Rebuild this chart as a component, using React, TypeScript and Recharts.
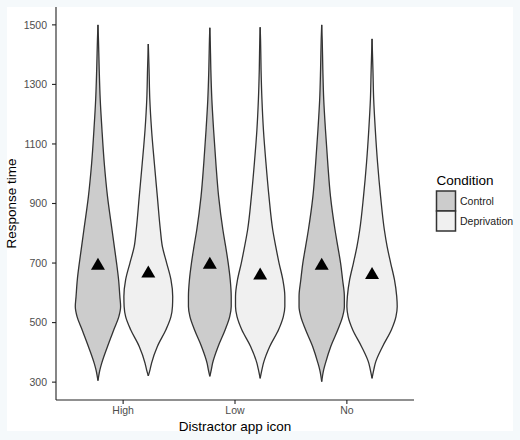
import { ComposedChart, Area, Scatter, XAxis, YAxis } from "recharts";

const groups = ["High", "Low", "No"];
const conditions = ["Control", "Deprivation"];

// mean response times (triangles)
const controlMeans = [691, 694, 691];
const deprivationMeans = [665, 658, 660];

const rtLevels = [342, 364, 420, 476, 520, 554, 588, 644, 700, 755, 811, 923, 1036, 1147, 1250, 1350, 1450];

// relative density at each level (1 = widest violin)
const highControl = [0.08, 0.15, 0.38, 0.63, 0.83, 0.9, 0.87, 0.82, 0.74, 0.65, 0.56, 0.38, 0.25, 0.16, 0.09, 0.05, 0.02];
const highDeprivation = [0.07, 0.13, 0.36, 0.7, 0.9, 0.96, 0.97, 0.9, 0.73, 0.56, 0.48, 0.36, 0.24, 0.13, 0.06, 0.03, null];
const lowControl = [0.06, 0.11, 0.33, 0.61, 0.79, 0.85, 0.85, 0.81, 0.73, 0.63, 0.52, 0.35, 0.24, 0.15, 0.08, 0.04, 0.015];
const lowDeprivation = [0.07, 0.13, 0.38, 0.73, 0.92, 0.98, 0.98, 0.9, 0.75, 0.62, 0.5, 0.35, 0.23, 0.13, 0.07, 0.035, 0.015];
const noControl = [0.08, 0.15, 0.36, 0.64, 0.83, 0.9, 0.9, 0.83, 0.75, 0.64, 0.53, 0.35, 0.24, 0.15, 0.08, 0.045, 0.02];
const noDeprivation = [0.07, 0.13, 0.42, 0.77, 0.95, 1.0, 0.98, 0.89, 0.74, 0.6, 0.49, 0.34, 0.22, 0.13, 0.065, 0.035, null];

// min / max response time of each violin
const controlMin = [305, 319, 302];
const controlMax = [1500, 1490, 1500];
const deprivationMin = [321, 313, 313];
const deprivationMax = [1436, 1492, 1453];

const yTicks = [300, 500, 700, 900, 1100, 1300, 1500];

const FONT = '"Liberation Sans", Arial, sans-serif';
const FILLS = ["#cccccc", "#f0f0f0"];
const OUTLINE = "#333333";
const DODGE = 0.225;
const HALF = 0.225;

const densities = [
  [highControl, highDeprivation],
  [lowControl, lowDeprivation],
  [noControl, noDeprivation],
];
const mins = [controlMin, deprivationMin];
const maxs = [controlMax, deprivationMax];

const violins = groups.flatMap((g, gi) =>
  conditions.map((c, ci) => ({
    key: `${g}_${c}`,
    cond: ci,
    pos: gi + 1 + (ci === 0 ? -DODGE : DODGE),
    dens: densities[gi][ci],
    min: mins[ci][gi],
    max: maxs[ci][gi],
  }))
);

const allRt = Array.from(
  new Set([...rtLevels, ...controlMin, ...controlMax, ...deprivationMin, ...deprivationMax])
).sort((a, b) => a - b);

const data = allRt.map((rt) => {
  const row: Record<string, number | null> = { rt };
  violins.forEach((v) => {
    let d: number | null = null;
    if (rt === v.min || rt === v.max) d = 0;
    else if (rt > v.min && rt < v.max) {
      const i = rtLevels.indexOf(rt);
      d = i >= 0 ? v.dens[i] : null;
    }
    row[v.key] = d;
  });
  return row;
});

const means = groups.flatMap((g, gi) => [
  { pos: gi + 1 - DODGE, rt: controlMeans[gi] },
  { pos: gi + 1 + DODGE, rt: deprivationMeans[gi] },
]);

const Triangle = (props: any) => {
  const { cx, cy } = props;
  return <polygon points={`${cx},${cy - 8} ${cx - 7},${cy + 4} ${cx + 7},${cy + 4}`} fill="#000" />;
};

export default function App() {
  return (
    <div style={{ position: "relative", width: 520, height: 440, background: "#f5f9fb", fontFamily: FONT }}>
      <style>{"body{margin:0}"}</style>
      <div style={{ position: "absolute", left: 7, top: 7, width: 506, height: 424, background: "#fff" }} />
      <div style={{ position: "absolute", left: 0, top: 0 }}>
        <ComposedChart
          width={520}
          height={440}
          data={data}
          layout="vertical"
          margin={{ top: 7, right: 106, bottom: 4, left: 7 }}
        >
          <XAxis
            type="number"
            dataKey="pos"
            domain={[0.4, 3.6]}
            allowDataOverflow
            ticks={[1, 2, 3]}
            tickFormatter={(v) => groups[Math.round(v) - 1]}
            height={36}
            stroke="#222"
            strokeWidth={1.1}
            tickSize={4}
            tickMargin={3}
            tick={{ fill: "#4d4d4d", fontSize: 10.5, fontFamily: FONT }}
            label={{
              value: "Distractor app icon",
              position: "insideBottom",
              offset: 5.5,
              style: { fill: "#000", fontSize: 13.5, fontFamily: FONT },
            }}
          />
          <YAxis
            type="number"
            dataKey="rt"
            reversed
            domain={[240, 1560]}
            allowDataOverflow
            ticks={yTicks}
            width={49}
            stroke="#222"
            strokeWidth={1.1}
            tickSize={4}
            tickMargin={5}
            tick={{ fill: "#4d4d4d", fontSize: 10.5, fontFamily: FONT }}
            label={{
              value: "Response time",
              angle: -90,
              position: "insideLeft",
              offset: 4,
              style: { fill: "#000", fontSize: 13.5, fontFamily: FONT, textAnchor: "middle" },
            }}
          />
          {violins.map((v) => (
            <Area
              key={v.key}
              dataKey={(row: any) => {
                const d = row[v.key];
                return d == null ? [null, null] : [v.pos - d * HALF, v.pos + d * HALF];
              }}
              type="monotone"
              connectNulls
              fill={FILLS[v.cond]}
              fillOpacity={1}
              stroke={OUTLINE}
              strokeWidth={1.3}
              dot={false}
              activeDot={false}
              isAnimationActive={false}
            />
          ))}
          <Scatter data={means} shape={Triangle} isAnimationActive={false} />
        </ComposedChart>
      </div>
      <svg style={{ position: "absolute", left: 0, top: 0 }} width={520} height={440}>
        <text x={436.5} y={184.5} fontSize={13.5} fontFamily={FONT} fill="#000">
          Condition
        </text>
        {conditions.map((c, i) => (
          <g key={c}>
            <rect x={436.5} y={191 + i * 20} width={19} height={20} fill={FILLS[i]} stroke={OUTLINE} strokeWidth={1.5} />
            <text x={460} y={204.5 + i * 20.5} fontSize={10.5} fontFamily={FONT} fill="#222">
              {c}
            </text>
          </g>
        ))}
      </svg>
    </div>
  );
}
